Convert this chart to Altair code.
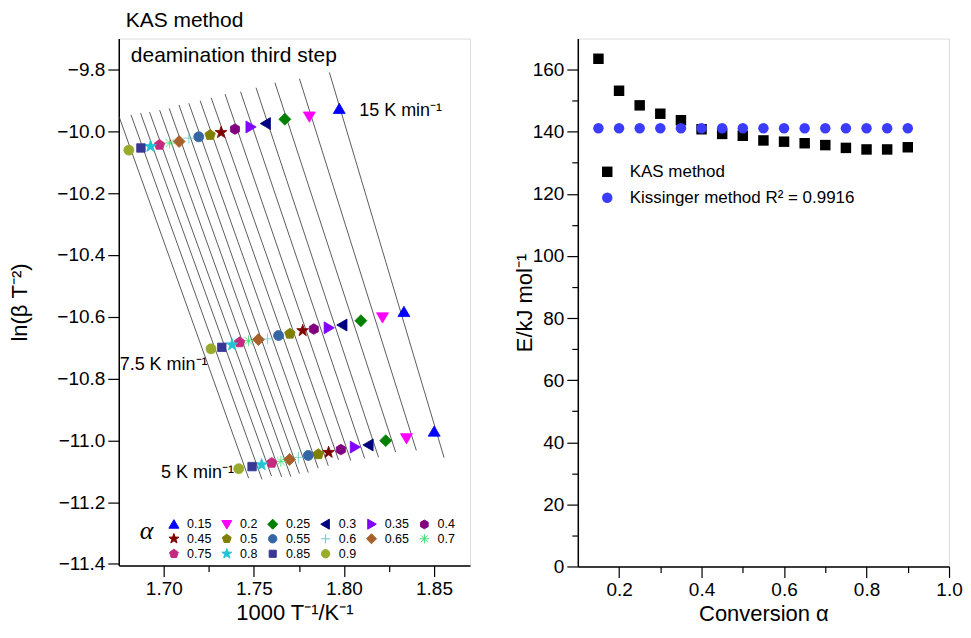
import math
import numpy as np
import pandas as pd
import altair as alt

# ---------------- data: left panel (KAS plot) ----------------
alphas = ["0.15", "0.2", "0.25", "0.3", "0.35", "0.4", "0.45", "0.5",
          "0.55", "0.6", "0.65", "0.7", "0.75", "0.8", "0.85", "0.9"]
rates = ["15", "7.5", "5"]

x15 = [1.7974, 1.7808, 1.7672, 1.7567, 1.7481, 1.7395, 1.7318, 1.7257,
       1.7194, 1.7139, 1.7085, 1.7032, 1.6976, 1.6926, 1.6873, 1.6806]
y15 = [-9.928, -9.952, -9.961, -9.975, -9.986, -9.993, -10.004, -10.012,
       -10.018, -10.022, -10.033, -10.038, -10.044, -10.049, -10.054, -10.061]
x75 = [1.8333, 1.8214, 1.8094, 1.7992, 1.7915, 1.7833, 1.7771, 1.7700,
       1.7637, 1.7576, 1.7525, 1.7470, 1.7421, 1.7379, 1.7322, 1.7262]
y75 = [-10.585, -10.602, -10.613, -10.627, -10.636, -10.640, -10.645, -10.655,
       -10.661, -10.672, -10.674, -10.678, -10.683, -10.691, -10.699, -10.704]
x5 = [1.8501, 1.8347, 1.8232, 1.8137, 1.8060, 1.7983, 1.7915, 1.7858,
      1.7802, 1.7747, 1.7698, 1.7650, 1.7599, 1.7543, 1.7490, 1.7416]
y5 = [-10.972, -10.993, -11.001, -11.015, -11.022, -11.030, -11.039, -11.045,
      -11.049, -11.055, -11.062, -11.068, -11.073, -11.079, -11.085, -11.092]

alpha_colors = ["#0000FF", "#FF00FF", "#008000", "#000080", "#8000FF", "#800080",
                "#800000", "#808000", "#3465A4", "#66C8C8", "#A8602A", "#3DDC6E",
                "#C42A7E", "#22C3D4", "#383894", "#9AAA2A"]

# annotation texts (left panel), in data units
ann_text = ["15 K min\u207b\u00b9", "7.5 K min\u207b\u00b9", "5 K min\u207b\u00b9",
            "deamination third step"]
ann_x = [1.8085, 1.6755, 1.6985, 1.6817]
ann_y = [-9.952, -10.774, -11.121, -9.7754]
ann_size = [18, 18, 18, 21]

# ---------------- data: right panel ----------------
conversion = [0.15, 0.2, 0.25, 0.3, 0.35, 0.4, 0.45, 0.5,
              0.55, 0.6, 0.65, 0.7, 0.75, 0.8, 0.85, 0.9]
E_kas = [163.5, 153.2, 148.5, 145.8, 143.7, 140.8, 139.3, 138.7,
         137.2, 136.8, 136.3, 135.7, 134.8, 134.3, 134.3, 135.0]
E_kissinger = [141.1, 141.1, 141.1, 141.1, 141.1, 141.1, 141.1, 141.1,
               141.1, 141.1, 141.1, 141.1, 141.1, 141.1, 141.1, 141.1]
methods = ["KAS method", "Kissinger method R\u00b2 = 0.9916"]

FONT = "Liberation Sans"


# ---------------- marker shapes (unit paths) ----------------
def poly(pts):
    return "M" + "L".join(f"{x:.3f},{y:.3f}" for x, y in pts) + "Z"


def star(r_out, r_in):
    pts = []
    for k in range(10):
        r = r_out if k % 2 == 0 else r_in
        a = -math.pi / 2 + k * math.pi / 5
        pts.append((r * math.cos(a), r * math.sin(a)))
    return poly(pts)


def ngon(n, r, rot):
    return poly([(r * math.cos(rot + 2 * math.pi * k / n),
                  r * math.sin(rot + 2 * math.pi * k / n)) for k in range(n)])


tri_up = poly([(0, -1.15), (1.2, 0.9), (-1.2, 0.9)])
tri_down = poly([(0, 1.15), (1.2, -0.9), (-1.2, -0.9)])
tri_left = poly([(-1.15, 0), (0.9, -1.2), (0.9, 1.2)])
tri_right = poly([(1.15, 0), (-0.9, -1.2), (-0.9, 1.2)])
diamond = poly([(0, -1.2), (1.2, 0), (0, 1.2), (-1.2, 0)])
hexagon = ngon(6, 1.05, -math.pi / 2)
pentagon = ngon(5, 1.1, -math.pi / 2)
star5 = star(1.25, 0.5)
plus = "M-1.1,0L1.1,0M0,-1.1L0,1.1"
asterisk = "M-1.1,0L1.1,0M0,-1.1L0,1.1M-0.8,-0.8L0.8,0.8M-0.8,0.8L0.8,-0.8"
square = poly([(-0.85, -0.85), (0.85, -0.85), (0.85, 0.85), (-0.85, 0.85)])
circle = "circle"

alpha_shapes = [tri_up, tri_down, diamond, tri_left, tri_right, hexagon,
                star5, pentagon, circle, plus, diamond, asterisk,
                pentagon, star5, square, circle]

# ---------------- tables ----------------
pts = pd.DataFrame({
    "alpha": alphas * 3,
    "rate": [r for r in rates for _ in alphas],
    "x": x15 + x75 + x5,
    "y": y15 + y75 + y5,
})

line_rows = []
for a in alphas:
    sub = pts[pts["alpha"] == a]
    k, b = np.polyfit(sub["x"], sub["y"], 1)
    for xe in (sub["x"].min() - 0.0055, sub["x"].max() + 0.0055):
        line_rows.append({"alpha": a, "x": xe, "y": k * xe + b})
lines = pd.DataFrame(line_rows)

ann = pd.DataFrame({"text": ann_text, "x": ann_x, "y": ann_y, "size": ann_size})

right_df = pd.DataFrame({
    "conv": conversion + conversion,
    "E": E_kas + E_kissinger,
    "method": [methods[0]] * len(conversion) + [methods[1]] * len(conversion),
})


def major_test(mult):
    return f"abs(datum.value*{mult} - round(datum.value*{mult})) < 0.001"


def tick_size(mult):
    return {"condition": {"test": major_test(mult), "value": 11}, "value": 6}


def label_expr(mult, fmt):
    return f"({major_test(mult)}) ? format(datum.value, '{fmt}') : ''"


axis_common = dict(labelFontSize=19, titleFontSize=22, labelFont=FONT, titleFont=FONT,
                   titleFontWeight="normal", labelColor="black", titleColor="black",
                   domainColor="black", tickColor="black", domainWidth=1.5, tickWidth=1.2,
                   grid=False, labelOverlap=False, labelFlush=False)

# ---------------- left panel ----------------
xL = alt.X("x:Q", scale=alt.Scale(domain=[1.675, 1.87], nice=False, zero=False),
           axis=alt.Axis(values=[1.70, 1.725, 1.75, 1.775, 1.80, 1.825, 1.85],
                         tickSize=tick_size(20), labelExpr=label_expr(20, ".2f"),
                         title="1000 T\u207b\u00b9/K\u207b\u00b9", labelPadding=3,
                         titlePadding=4, **axis_common))
yL = alt.Y("y:Q", scale=alt.Scale(domain=[-11.405, -9.7], nice=False, zero=False),
           axis=alt.Axis(values=[-11.4, -11.3, -11.2, -11.1, -11.0, -10.9, -10.8, -10.7,
                                 -10.6, -10.5, -10.4, -10.3, -10.2, -10.1, -10.0, -9.9, -9.8],
                         tickSize=tick_size(5), labelExpr=label_expr(5, ".1f"),
                         title="ln(\u03b2 T\u207b\u00b2)", labelPadding=3,
                         titlePadding=25, **axis_common))

legL = alt.Legend(title="\u03b1", orient="none", legendX=21, legendY=480, columns=6,
                  direction="horizontal",
                  titleOrient="left", titleAnchor="start", titleFont="Liberation Serif",
                  titleFontStyle="italic",
                  titleFontWeight="normal", titleFontSize=26, titlePadding=14,
                  titleBaseline="top", labelFont=FONT, labelFontSize=12.5, labelColor="black",
                  symbolSize=70, symbolStrokeWidth=1, labelOffset=7, columnPadding=8,
                  rowPadding=0, labelLimit=0)

fill_scale = alt.Scale(domain=alphas, range=alpha_colors)
shape_scale = alt.Scale(domain=alphas, range=alpha_shapes)

line_layer = alt.Chart(lines).mark_line(color="#333333", strokeWidth=0.8, clip=True).encode(
    x=xL, y=yL, detail="alpha:N")

point_layer = alt.Chart(pts).mark_point(filled=True, size=100, strokeWidth=0.8, opacity=1).encode(
    x="x:Q", y="y:Q",
    fill=alt.Fill("alpha:N", scale=fill_scale, legend=legL),
    stroke=alt.Stroke("alpha:N", scale=fill_scale, legend=legL),
    shape=alt.Shape("alpha:N", scale=shape_scale, legend=legL),
)

text_layer = alt.Chart(ann).mark_text(align="left", baseline="alphabetic", font=FONT,
                                      color="black").encode(
    x="x:Q", y="y:Q", text="text:N", size=alt.Size("size:Q", scale=None))

left = alt.layer(line_layer, point_layer, text_layer).properties(
    width=352, height=528,
    title=alt.TitleParams("KAS method", anchor="start", frame="group", fontSize=21,
                          baseline="top", fontWeight="normal", font=FONT, dx=7, offset=8,
                          color="black"))

# ---------------- right panel ----------------
legR = alt.Legend(title=None, orient="none", legendX=21, legendY=125, labelFont=FONT,
                  labelFontSize=17, labelColor="black", symbolSize=110, labelOffset=14,
                  rowPadding=8, symbolStrokeWidth=0, labelLimit=0)

right = alt.Chart(right_df).mark_point(filled=True, size=110, opacity=1).encode(
    x=alt.X("conv:Q", scale=alt.Scale(domain=[0.1, 1.0], nice=False, zero=False),
            axis=alt.Axis(values=[0.2, 0.3, 0.4, 0.5, 0.6, 0.7, 0.8, 0.9, 1.0],
                          tickSize=tick_size(5), labelExpr=label_expr(5, ".1f"),
                          title="Conversion \u03b1", labelPadding=3, titlePadding=4,
                          **axis_common)),
    y=alt.Y("E:Q", scale=alt.Scale(domain=[0, 170], nice=False),
            axis=alt.Axis(values=[0, 10, 20, 30, 40, 50, 60, 70, 80, 90, 100, 110, 120,
                                  130, 140, 150, 160],
                          tickSize=tick_size(0.05), labelExpr=label_expr(0.05, "d"),
                          title="E/kJ mol\u207b\u00b9", labelPadding=3, titlePadding=-4,
                          **axis_common)),
    color=alt.Color("method:N", scale=alt.Scale(domain=methods, range=["black", "#3C3CFF"]),
                    legend=legR),
    shape=alt.Shape("method:N", scale=alt.Scale(domain=methods, range=["square", "circle"]),
                    legend=legR),
).properties(width=372, height=529,
             title=alt.TitleParams(" ", fontSize=21, font=FONT, baseline="top", offset=8))

chart = alt.hconcat(left, right, spacing=41).resolve_scale(
    color="independent", shape="independent", fill="independent", stroke="independent"
).resolve_legend(
    color="independent", shape="independent", fill="independent", stroke="independent"
).configure_view(stroke="black", strokeWidth=1.5).configure(
    font=FONT, padding={"left": 0, "top": 0, "right": 0, "bottom": 0})

chart.save("out.html", embed_options={"renderer": "svg", "actions": False})
